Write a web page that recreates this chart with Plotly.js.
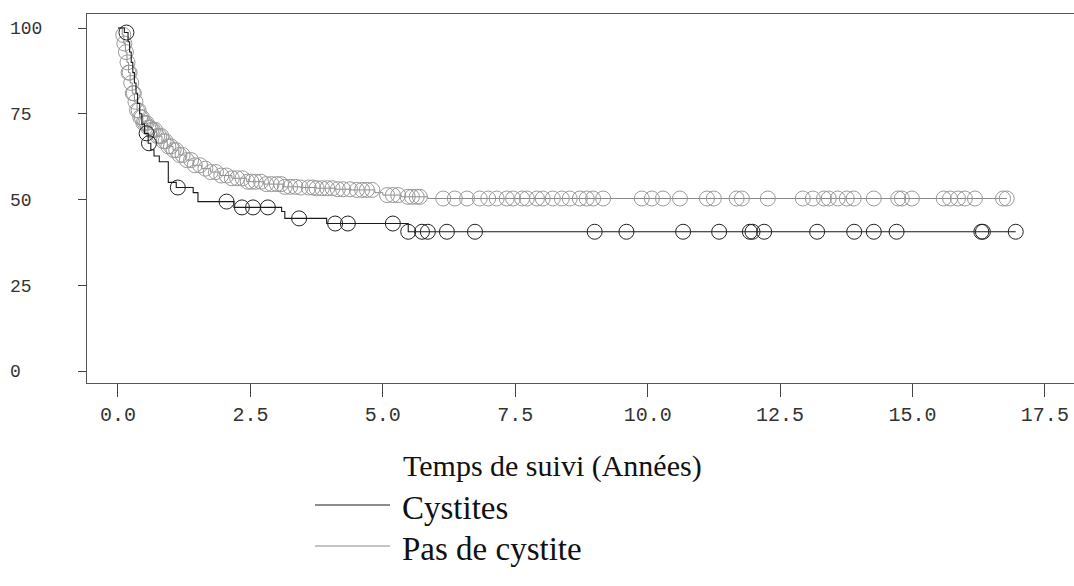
<!DOCTYPE html>
<html>
<head>
<meta charset="utf-8">
<script src="https://cdn.plot.ly/plotly-3.0.1.min.js"></script>
<style>html,body{margin:0;padding:0;background:#fff;}#chart{width:1074px;height:586px;}</style>
</head>
<body>
<div id="chart"></div>
<script>
// ---- Data (Kaplan-Meier curves, %) ----
const seriesNames = ["Cystites", "Pas de cystite"];
const xTitle = "Temps de suivi (Années)";

// Cystites: step curve (time of drop, survival after drop)
const cystStepT = [0, 0.12, 0.19, 0.22, 0.25, 0.28, 0.31, 0.34, 0.37, 0.41, 0.45, 0.50, 0.57, 0.62, 0.68, 0.78, 0.95, 1.10, 1.42, 1.51, 2.19, 3.09, 3.15, 3.94, 5.48];
const cystStepV = [100, 98.7, 96, 93, 90, 87, 84, 81, 78, 75, 72, 69.3, 66.4, 64.5, 62.7, 61, 55, 53.5, 52, 49.4, 47.7, 46.5, 44.5, 43.0, 40.6];
const cystEnd = 16.95;
// Cystites: censored observations (circles)
const cystCensT = [0.16, 0.54, 0.585, 1.13, 2.05, 2.34, 2.55, 2.83, 3.42, 4.10, 4.34, 5.19, 5.48, 5.74, 5.85, 6.21, 6.74, 9.00, 9.60, 10.67, 11.35, 11.93, 11.98, 12.20, 13.20, 13.90, 14.27, 14.70, 16.30, 16.33, 16.95];
const cystCensV = [98.7, 69.3, 66.4, 53.5, 49.4, 47.7, 47.7, 47.7, 44.5, 43.0, 43.0, 43.0, 40.6, 40.6, 40.6, 40.6, 40.6, 40.6, 40.6, 40.6, 40.6, 40.6, 40.6, 40.6, 40.6, 40.6, 40.6, 40.6, 40.6, 40.6, 40.6];

// Pas de cystite: step curve
const noStepT = [0, 0.08, 0.11, 0.14, 0.17, 0.20, 0.23, 0.27, 0.31, 0.36, 0.41, 0.47, 0.55, 0.63, 0.73, 0.83, 0.93, 1.04, 1.15, 1.28, 1.42, 1.58, 1.75, 1.93, 2.15, 2.43, 2.75, 3.12, 3.45, 3.75, 4.10, 4.40, 4.85, 5.00, 5.35, 5.85];
const noStepV = [100, 98, 95.5, 93, 90, 87, 84, 81, 78.5, 76, 74, 72.3, 71, 70.3, 68.5, 67, 65.5, 64.4, 63, 61.5, 60, 59, 58, 57, 56.2, 55.2, 54.5, 53.7, 53.5, 53.3, 53.0, 52.8, 52.0, 51.3, 50.8, 50.3];
const noEnd = 16.78;
// Pas de cystite: censored observation times (circles sit on the curve)
const noCensT = [0.10, 0.12, 0.15, 0.18, 0.20, 0.22, 0.25, 0.28, 0.30, 0.33, 0.36, 0.39, 0.42, 0.45, 0.48, 0.51, 0.54, 0.57, 0.60, 0.63, 0.66, 0.70, 0.74, 0.78, 0.82, 0.86, 0.90, 0.95, 1.00, 1.05, 1.10, 1.16, 1.22, 1.30, 1.38, 1.45, 1.55, 1.65, 1.75, 1.85, 1.95, 2.05, 2.15, 2.25, 2.35, 2.45, 2.52, 2.60, 2.70, 2.80, 2.90, 3.00, 3.08, 3.15, 3.25, 3.35, 3.45, 3.60, 3.68, 3.75, 3.85, 3.95, 4.05, 4.15, 4.25, 4.38, 4.51, 4.61, 4.70, 4.80, 5.08, 5.19, 5.29, 5.47, 5.55, 5.64, 5.70, 6.14, 6.36, 6.59, 6.83, 6.99, 7.15, 7.34, 7.46, 7.63, 7.72, 7.91, 8.02, 8.21, 8.38, 8.53, 8.72, 8.85, 8.97, 9.16, 9.89, 10.08, 10.29, 10.61, 11.12, 11.25, 11.68, 11.78, 12.27, 12.93, 13.12, 13.33, 13.42, 13.59, 13.76, 13.89, 14.27, 14.73, 14.80, 14.99, 15.59, 15.71, 15.86, 15.99, 16.18, 16.71, 16.78];

const yTickVals = [0, 25, 50, 75, 100];
const yTickText = ["0", "25", "50", "75", "100"];
const xTickVals = [0, 2.5, 5, 7.5, 10, 12.5, 15, 17.5];
const xTickText = ["0.0", "2.5", "5.0", "7.5", "10.0", "12.5", "15.0", "17.5"];

// ---- helpers ----
function stepAt(T, V, t) {
  let v = V[0];
  for (let i = 0; i < T.length; i++) { if (T[i] <= t) v = V[i]; }
  return v;
}
const padLeft = s => s + "\u00a0".repeat(3 - s.length);

const colBlack = "#1a1a1a", colGray = "#8a8a8a";

const traces = [
  { x: noStepT.concat([noEnd]), y: noStepV.concat([noStepV[noStepV.length - 1]]),
    type: "scatter", mode: "lines", line: { shape: "hv", color: colGray, width: 1 },
    name: seriesNames[1], showlegend: false, hoverinfo: "skip" },
  { x: noCensT, y: noCensT.map(t => stepAt(noStepT, noStepV, t)),
    type: "scatter", mode: "markers", name: seriesNames[1], showlegend: false,
    marker: { symbol: "circle-open", size: 15, color: "#9a9a9a", line: { width: 1, color: "#9a9a9a" } } },
  { x: cystStepT.concat([cystEnd]), y: cystStepV.concat([cystStepV[cystStepV.length - 1]]),
    type: "scatter", mode: "lines", line: { shape: "hv", color: colBlack, width: 1.1 },
    name: seriesNames[0], showlegend: false, hoverinfo: "skip" },
  { x: cystCensT, y: cystCensV,
    type: "scatter", mode: "markers", name: seriesNames[0], showlegend: false,
    marker: { symbol: "circle-open", size: 15, color: "#222", line: { width: 1, color: "#222" } } }
];

const monoFontY = { family: "Liberation Mono, Courier New, monospace", size: 18, color: "#333" };
const monoFontX = { family: "Liberation Mono, Courier New, monospace", size: 20, color: "#333" };
const titleFont = { family: "Liberation Serif, Times New Roman, serif", size: 30, color: "#111" };
const legendFont = { family: "Liberation Serif, Times New Roman, serif", size: 33, color: "#111" };

// plot area: x 87..1074 px, y 14..383 px
const L = 87, R = 1074, T = 14, B = 383;
const px2x = p => (p - L) / (R - L);
const py2y = p => (B - p) / (B - T);

const legendY = [505, 546];
const legendCol = [colBlack, colGray];
const shapes = seriesNames.map((n, i) => ({
  type: "line", xref: "paper", yref: "paper",
  x0: px2x(315), x1: px2x(390), y0: py2y(legendY[i]), y1: py2y(legendY[i]),
  line: { color: legendCol[i], width: 1 }
}));
const annotations = [
  { text: xTitle, xref: "paper", yref: "paper", x: px2x(401), y: py2y(466),
    xanchor: "left", yanchor: "middle", showarrow: false, font: titleFont }
].concat(seriesNames.map((n, i) => ({
  text: n, xref: "paper", yref: "paper", x: px2x(400), y: py2y(legendY[i] + 3),
  xanchor: "left", yanchor: "middle", showarrow: false, font: legendFont
})));

const layout = {
  width: 1074, height: 586,
  margin: { l: L, r: 1074 - R, t: T, b: 586 - B, pad: 0 },
  paper_bgcolor: "#fff", plot_bgcolor: "#fff",
  showlegend: false,
  xaxis: {
    range: [-0.585, 18.05], showgrid: false, zeroline: false,
    showline: true, mirror: true, linecolor: "#555", linewidth: 1,
    ticks: "outside", ticklen: 13, tickcolor: "#444", tickwidth: 1,
    tickvals: xTickVals, ticktext: xTickText, tickfont: monoFontX, ticklabelstandoff: 0
  },
  yaxis: {
    range: [-3.5, 104.1], showgrid: false, zeroline: false,
    showline: true, mirror: false, linecolor: "#555", linewidth: 1,
    ticks: "outside", ticklen: 8, tickcolor: "#444", tickwidth: 1,
    tickvals: yTickVals, ticktext: yTickText.map(padLeft), tickfont: monoFontY, ticklabelstandoff: 32
  },
  shapes: shapes,
  annotations: annotations
};

Plotly.newPlot("chart", traces, layout, { staticPlot: true, displayModeBar: false });
</script>
</body>
</html>
